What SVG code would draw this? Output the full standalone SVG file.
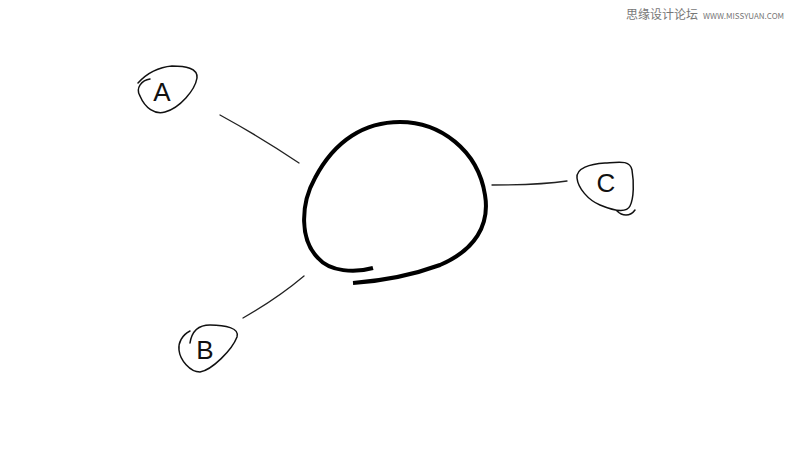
<svg xmlns="http://www.w3.org/2000/svg" width="800" height="450" viewBox="0 0 800 450">
<style>
.blob{fill:none;stroke:#111;stroke-width:1.5;stroke-linecap:round;stroke-linejoin:round}
.lbl{font-family:"Liberation Sans",Arial,sans-serif;font-size:26px;fill:#111;text-anchor:middle}
.conn{fill:none;stroke:#222;stroke-width:1.3;stroke-linecap:round}
.wm{font-family:"Noto Sans CJK SC","Liberation Sans",sans-serif;fill:#777}
</style>
<rect width="800" height="450" fill="#fff"/>
<text class="wm" x="626" y="19" font-size="12">思缘设计论坛</text>
<text class="wm" x="703" y="19" font-size="8" font-family="'DejaVu Sans Mono',monospace">WWW.MISSYUAN.COM</text>
<g id="center">
<path d="M373,268 C355,273 330,272 318,258 C300,240 300,205 315,178 C335,140 365,122 400,122 C440,122 478,150 485,195 C490,225 475,250 440,265 C410,276 380,281 353,283" fill="none" stroke="#000" stroke-width="4" stroke-linecap="butt"/>
</g>
<g id="connectors">
<path class="conn" d="M220,115 Q262,138 299,163"/>
<path class="conn" d="M243,318 Q278,298 304,276"/>
<path class="conn" d="M492,185 Q540,185 567,181"/>
</g>
<g id="nodeA">
<path class="blob" d="M150,79 C142,80 135,88 140,96 C145,108 155,115 165,112 C180,108 195,90 197,78 C198,68 185,66 172,66 C160,67 148,72 138,83"/>
<text class="lbl" x="162" y="101">A</text>
</g>
<g id="nodeB">
<path class="blob" d="M190,343 C192,330 200,325 210,325 C225,325 240,328 237,337 C232,350 212,370 200,372 C190,372 180,360 179,350 C178,343 182,335 190,331"/>
<text class="lbl" x="205" y="359">B</text>
</g>
<g id="nodeC">
<path class="blob" d="M577,178 C576,168 590,164 605,163 C620,162 630,160 632,170 C634,182 634,198 630,206 C626,214 612,210 600,205 C588,200 578,188 577,178 M617,211 C622,216 630,217 635,210"/>
<text class="lbl" x="606" y="192">C</text>
</g>
</svg>
